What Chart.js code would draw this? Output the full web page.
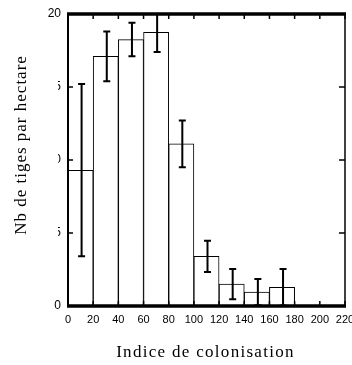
<!DOCTYPE html>
<html>
<head>
<meta charset="utf-8">
<script src="https://cdn.jsdelivr.net/npm/chart.js@4.4.0/dist/chart.umd.min.js"></script>
<style>
  html, body { margin: 0; padding: 0; background: #fff; }
  #wrap { width: 352px; height: 365px; }
</style>
</head>
<body>
<div id="wrap"><canvas id="chart" width="352" height="365"></canvas></div>
<script>
// Data
const binCentres = [10, 30, 50, 70, 90, 110, 130, 150, 170, 190, 210];
const stemCounts = [9.3, 17.1, 18.25, 18.75, 11.1, 3.4, 1.5, 0.95, 1.28, 0, 0];
const stemErrors = [5.9, 1.7, 1.15, 1.35, 1.6, 1.07, 1.04, 0.9, 1.25, 0, 0];
const xTicks = [0, 20, 40, 60, 80, 100, 120, 140, 160, 180, 200, 220];
const yTicks = [0, 5, 10, 15, 20];
const xTitle = 'Indice de colonisation';
const yTitle = 'Nb de tiges par hectare';

// Error bars drawn from the same arrays through the scales
const errorBars = {
  id: 'errorBars',
  afterDatasetsDraw(chart) {
    const { ctx, scales: { x, y }, chartArea } = chart;
    ctx.save();
    ctx.beginPath();
    ctx.rect(chartArea.left, chartArea.top - 1, chartArea.width, chartArea.height + 1);
    ctx.clip();
    ctx.strokeStyle = '#000';
    ctx.lineWidth = 2;
    binCentres.forEach((c, i) => {
      if (!stemErrors[i]) return;
      const px = x.getPixelForValue(c) + 1;
      const hi = y.getPixelForValue(stemCounts[i] + stemErrors[i]);
      const lo = y.getPixelForValue(Math.max(0, stemCounts[i] - stemErrors[i]));
      ctx.beginPath();
      ctx.moveTo(px, hi); ctx.lineTo(px, lo);
      ctx.moveTo(px - 3.5, hi); ctx.lineTo(px + 3.5, hi);
      ctx.moveTo(px - 3.5, lo); ctx.lineTo(px + 3.5, lo);
      ctx.stroke();
    });
    ctx.restore();
  }
};

// Box frame with inward ticks, then axis titles
const frame = {
  id: 'frame',
  afterDraw(chart) {
    const { ctx, scales: { x, y }, chartArea: a } = chart;
    ctx.save();
    ctx.strokeStyle = '#000';
    ctx.lineCap = 'butt';

    ctx.lineWidth = 1.5;
    xTicks.forEach(v => {
      const px = x.getPixelForValue(v);
      ctx.beginPath();
      ctx.moveTo(px, a.top); ctx.lineTo(px, a.top + 5);
      ctx.moveTo(px, a.bottom); ctx.lineTo(px, a.bottom - 5);
      ctx.stroke();
    });
    yTicks.forEach(v => {
      const py = y.getPixelForValue(v);
      ctx.beginPath();
      ctx.moveTo(a.left, py); ctx.lineTo(a.left + 5, py);
      ctx.moveTo(a.right, py); ctx.lineTo(a.right - 6, py);
      ctx.stroke();
    });

    ctx.lineWidth = 3.5;
    ctx.beginPath();
    ctx.moveTo(a.left - 1, a.top); ctx.lineTo(a.right + 1, a.top);
    ctx.moveTo(a.left - 1, a.bottom); ctx.lineTo(a.right + 1, a.bottom);
    ctx.stroke();
    ctx.lineWidth = 2;
    ctx.beginPath();
    ctx.moveTo(a.left, a.top); ctx.lineTo(a.left, a.bottom);
    ctx.stroke();
    ctx.lineWidth = 1.5;
    ctx.beginPath();
    ctx.moveTo(a.right, a.top); ctx.lineTo(a.right, a.bottom);
    ctx.stroke();

    // titles (the y title sits on a white box that hides part of the tick labels)
    ctx.fillStyle = '#fff';
    ctx.fillRect(0, 36, 58, 218);
    ctx.fillStyle = '#000';
    ctx.font = '17px "Liberation Serif", "Times New Roman", serif';
    ctx.letterSpacing = '1.3px';
    ctx.textAlign = 'center';
    ctx.textBaseline = 'alphabetic';
    ctx.fillText(xTitle, (a.left + a.right) / 2 - 1, 357);
    ctx.letterSpacing = '1px';
    ctx.translate(26, 145);
    ctx.rotate(-Math.PI / 2);
    ctx.fillText(yTitle, 0, 0);
    ctx.restore();
  }
};

new Chart(document.getElementById('chart'), {
  type: 'bar',
  data: {
    datasets: [{
      data: binCentres.map((c, i) => ({ x: c, y: stemCounts[i] })),
      backgroundColor: '#fff',
      borderColor: '#000',
      borderWidth: 1,
      barPercentage: 1,
      categoryPercentage: 1
    }]
  },
  options: {
    responsive: false,
    animation: false,
    events: [],
    layout: { padding: { left: 0, right: 7, top: 14, bottom: 0 } },
    plugins: { legend: { display: false }, tooltip: { enabled: false } },
    scales: {
      x: {
        type: 'linear',
        min: 0, max: 220,
        offset: false,
        afterBuildTicks: s => { s.ticks = xTicks.map(v => ({ value: v })); },
        afterFit: s => { s.height = 59; s.paddingLeft = 0; s.paddingRight = 0; },
        grid: { display: false, drawTicks: false },
        border: { display: false },
        ticks: {
          padding: 7,
          color: '#000',
          maxRotation: 0,
          autoSkip: false,
          font: { family: '"Liberation Sans", Arial, sans-serif', size: 11 }
        }
      },
      y: {
        min: 0, max: 20,
        afterBuildTicks: s => { s.ticks = yTicks.map(v => ({ value: v })); },
        afterFit: s => { s.width = 68; s.paddingTop = 0; s.paddingBottom = 0; },
        grid: { display: false, drawTicks: false },
        border: { display: false },
        ticks: {
          padding: 7,
          color: '#000',
          font: { family: '"Liberation Sans", Arial, sans-serif', size: 12 }
        }
      }
    }
  },
  plugins: [errorBars, frame]
});
</script>
</body>
</html>
